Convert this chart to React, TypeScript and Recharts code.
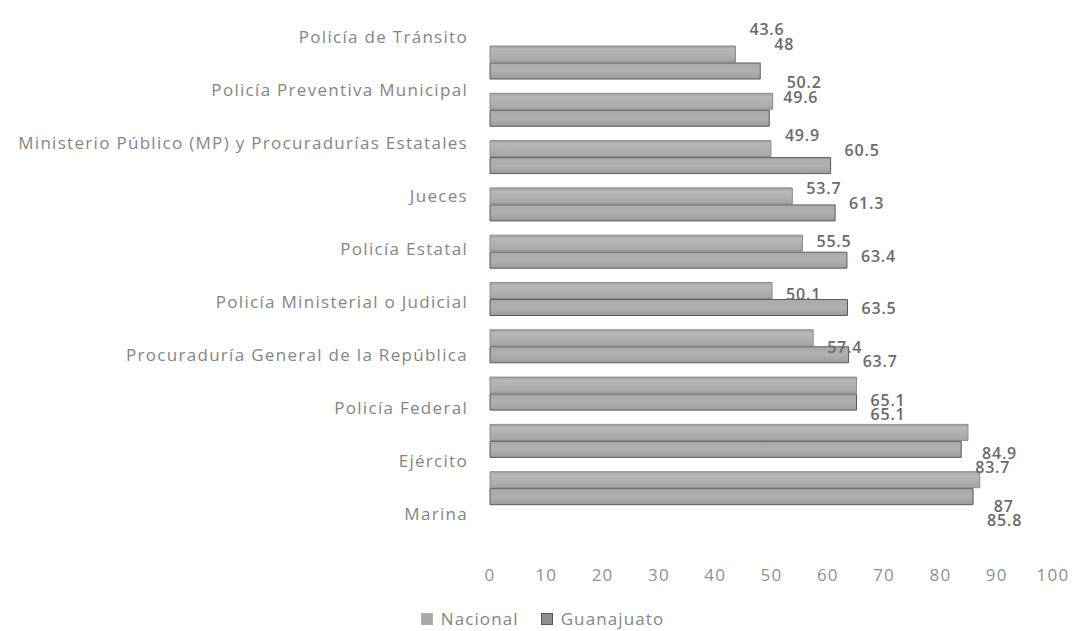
import React from 'react';
import { BarChart, Bar, XAxis, YAxis, Legend, LabelList } from 'recharts';

const categories = [
  'Policía de Tránsito',
  'Policía Preventiva Municipal',
  'Ministerio Público (MP) y Procuradurías Estatales',
  'Jueces',
  'Policía Estatal',
  'Policía Ministerial o Judicial',
  'Procuraduría General de la República',
  'Policía Federal',
  'Ejército',
  'Marina',
];
const nacional = [43.6, 50.2, 49.9, 53.7, 55.5, 50.1, 57.4, 65.1, 84.9, 87];
const guanajuato = [48, 49.6, 60.5, 61.3, 63.4, 63.5, 63.7, 65.1, 83.7, 85.8];
const xTicks = [0, 10, 20, 30, 40, 50, 60, 70, 80, 90, 100];
const seriesNames = ['Nacional', 'Guanajuato'];

const data = categories.map((name, i) => ({ name, nacional: nacional[i], guanajuato: guanajuato[i] }));

const FONT = '"Open Sans", "Liberation Sans", sans-serif';
const MARGIN = { top: 39, right: 20, left: 0, bottom: 2 };
const PLOT_BOTTOM = 512;
const MID = (MARGIN.top + PLOT_BOTTOM) / 2;
const SPREAD = 1.12;
const spreadY = (y: number) => MID + (y - MID) * SPREAD;

const CatTick = (props: any) => {
  const { x, y, payload } = props;
  return (
    <text x={x} y={spreadY(y)} dy="0.35em" textAnchor="end" fill="#858585" fontSize={17} letterSpacing={1.3} fontFamily={FONT}>
      {payload.value}
    </text>
  );
};

const XTick = (props: any) => {
  const { x, y, payload } = props;
  return (
    <text x={x} y={y} dy="0.71em" textAnchor="middle" fill="#909090" fontSize={17} letterSpacing={1.2} fontFamily={FONT}>
      {payload.value}
    </text>
  );
};

const makeLabel = (isTop: boolean) => (props: any) => {
  const { x, y, width, height, value } = props;
  const catCenter = isTop ? y + height : y;
  const ty = spreadY(catCenter) + (isTop ? -6.5 : 6.5);
  return (
    <text x={x + width + 14} y={ty} dy="0.35em" textAnchor="start" fill="#6a6a6a" fontSize={16} letterSpacing={0.8} fontWeight={600} fontFamily={FONT}>
      {value}
    </text>
  );
};

const LegendContent = () => (
  <div style={{ display: 'flex', justifyContent: 'center', alignItems: 'center', fontFamily: FONT, fontSize: 17, letterSpacing: 1.1, color: '#858585', paddingLeft: 32, lineHeight: '20px' }}>
    {seriesNames.map((name, i) => (
      <div key={name} style={{ display: 'flex', alignItems: 'center', marginLeft: i === 0 ? 0 : 22 }}>
        <span style={{ display: 'inline-block', width: 10, height: 10, background: i === 0 ? '#a9a9a9' : '#8f8f8f', border: i === 0 ? '1px solid #b0b0b0' : '1px solid #555', marginRight: 8 }} />
        <span>{name}</span>
      </div>
    ))}
  </div>
);

export default function App() {
  return (
    <div style={{ position: 'absolute', left: 0, top: 0, width: 1073, height: 631, background: '#fff' }}>
      <BarChart width={1073} height={631} data={data} layout="vertical" margin={MARGIN} barSize={16} barGap={1}>
        <defs>
          <linearGradient id="gNac" x1="0" y1="0" x2="0" y2="1">
            <stop offset="0%" stopColor="#a0a0a0" />
            <stop offset="20%" stopColor="#b8b8b8" />
            <stop offset="70%" stopColor="#adadad" />
            <stop offset="100%" stopColor="#a4a4a4" />
          </linearGradient>
          <linearGradient id="gGua" x1="0" y1="0" x2="0" y2="1">
            <stop offset="0%" stopColor="#aaaaaa" />
            <stop offset="50%" stopColor="#b0b0b0" />
            <stop offset="100%" stopColor="#9c9c9c" />
          </linearGradient>
        </defs>
        <XAxis
          type="number"
          domain={[0, 100]}
          ticks={xTicks}
          axisLine={false}
          tickLine={false}
          tickSize={0}
          tickMargin={57}
          height={97}
          tick={<XTick />}
          interval={0}
        />
        <YAxis
          type="category"
          dataKey="name"
          width={490}
          axisLine={false}
          tickLine={false}
          tickSize={0}
          tickMargin={22}
          tick={<CatTick />}
          interval={0}
        />
        <Legend verticalAlign="bottom" height={20} content={<LegendContent />} />
        <Bar dataKey="nacional" name="Nacional" fill="url(#gNac)" stroke="#8c8c8c" strokeWidth={1} isAnimationActive={false}>
          <LabelList dataKey="nacional" content={makeLabel(true)} />
        </Bar>
        <Bar dataKey="guanajuato" name="Guanajuato" fill="url(#gGua)" stroke="#5a5a5a" strokeWidth={1} isAnimationActive={false}>
          <LabelList dataKey="guanajuato" content={makeLabel(false)} />
        </Bar>
      </BarChart>
    </div>
  );
}
